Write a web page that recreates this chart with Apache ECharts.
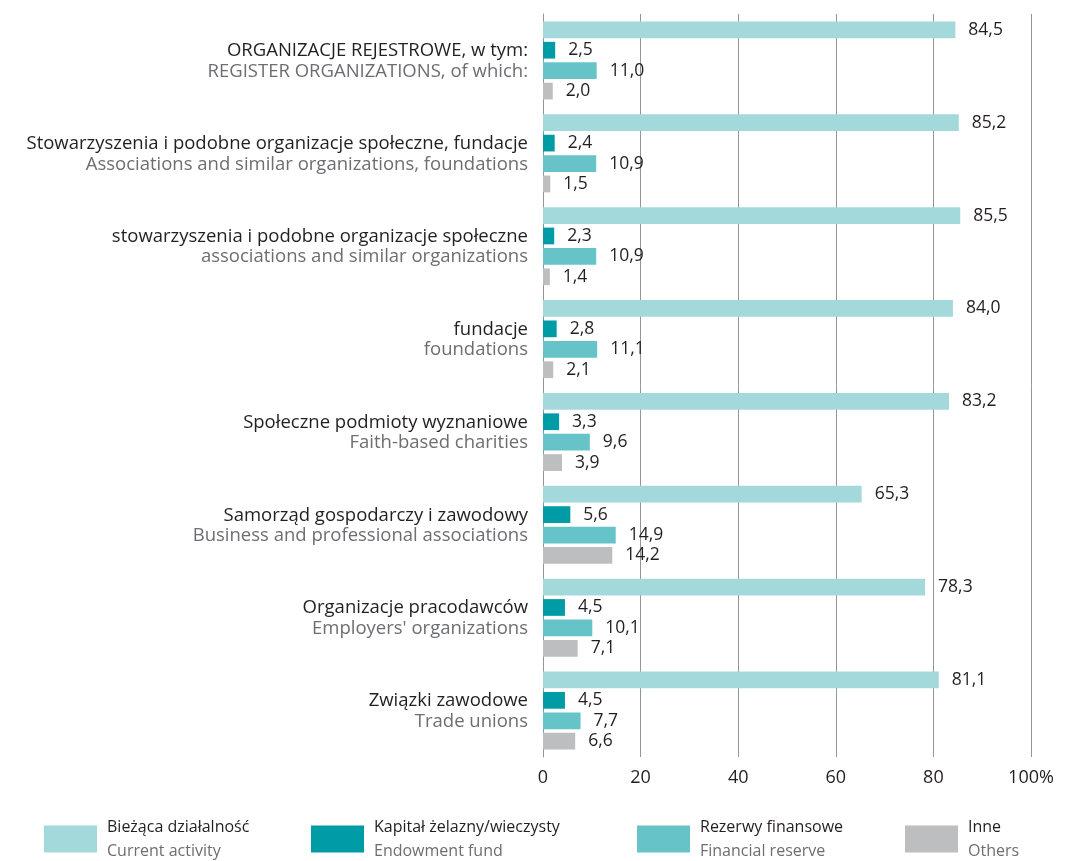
<!DOCTYPE html>
<html>
<head>
<meta charset="utf-8">
<script src="https://cdn.jsdelivr.net/npm/echarts@6/dist/echarts.min.js"></script>
<style>
html, body { margin: 0; padding: 0; background: #fff; }
#container { width: 1067px; height: 861px; }
</style>
</head>
<body>
<div id="container"></div>
<script>
var categoriesPl = ['ORGANIZACJE REJESTROWE, w tym:', 'Stowarzyszenia i podobne organizacje społeczne, fundacje',
    'stowarzyszenia i podobne organizacje społeczne', 'fundacje', 'Społeczne podmioty wyznaniowe',
    'Samorząd gospodarczy i zawodowy', 'Organizacje pracodawców', 'Związki zawodowe'];
var categoriesEn = ['REGISTER ORGANIZATIONS, of which:', 'Associations and similar organizations, foundations',
    'associations and similar organizations', 'foundations', 'Faith-based charities',
    'Business and professional associations', "Employers' organizations", 'Trade unions'];
var currentActivity = [84.5, 85.2, 85.5, 84.0, 83.2, 65.3, 78.3, 81.1];
var endowmentFund = [2.5, 2.4, 2.3, 2.8, 3.3, 5.6, 4.5, 4.5];
var financialReserve = [11.0, 10.9, 10.9, 11.1, 9.6, 14.9, 10.1, 7.7];
var others = [2.0, 1.5, 1.4, 2.1, 3.9, 14.2, 7.1, 6.6];
var xTicks = ['0', '20', '40', '60', '80', '100%'];

var seriesNamesPl = ['Bieżąca działalność', 'Kapitał żelazny/wieczysty', 'Rezerwy finansowe', 'Inne'];
var seriesNamesEn = ['Current activity', 'Endowment fund', 'Financial reserve', 'Others'];
var colors = ['#a4d9dc', '#009ca6', '#66c4c9', '#bcbec0'];

var FONT = 'Open Sans';
var dom = document.getElementById('container');
var myChart = echarts.init(dom);

var cats = categoriesPl.map(function (p, i) { return p + '\n' + categoriesEn[i]; });

function makeSeries(idx, data) {
    return {
        name: seriesNamesPl[idx],
        type: 'bar',
        data: data,
        barGap: '22%',
        barCategoryGap: '16%',
        itemStyle: { color: colors[idx] },
        label: {
            show: true,
            position: 'right',
            distance: 13,
            color: '#231f20',
            fontFamily: FONT,
            fontSize: 17.5,
            padding: [4, 0, 0, 0],
            formatter: function (p) { return p.value.toFixed(1).replace('.', ','); }
        }
    };
}

var legendLefts = [44, 311, 637, 905];
var legends = seriesNamesPl.map(function (n, i) {
    return {
        left: legendLefts[i],
        top: 819,
        padding: 0,
        data: [n],
        icon: 'rect',
        itemWidth: 53,
        itemHeight: 27,
        itemGap: 0,
        selectedMode: false,
        formatter: function (name) { return '{a|' + name + '}\n{b|' + seriesNamesEn[i] + '}'; },
        textStyle: {
            padding: [0, 0, 0, 5],
            rich: {
                a: { fontFamily: FONT, fontSize: 16, color: '#231f20', lineHeight: 24 },
                b: { fontFamily: FONT, fontSize: 16, color: '#6d6e71', lineHeight: 24 }
            }
        }
    };
});

var option = {
    animation: false,
    color: colors,
    legend: legends,
    grid: {
        left: 543,
        right: 36,
        top: 14,
        bottom: 104
    },
    xAxis: {
        type: 'value',
        min: 0,
        max: 100,
        interval: 20,
        axisLine: { show: false },
        axisTick: { show: false },
        splitLine: { show: true, lineStyle: { color: '#939598', width: 1 } },
        axisLabel: {
            margin: 12,
            color: '#231f20',
            fontFamily: FONT,
            fontSize: 18,
            formatter: function (v) { return xTicks[v / 20]; }
        }
    },
    yAxis: {
        type: 'category',
        inverse: true,
        data: cats,
        axisLine: { show: true, lineStyle: { color: '#939598', width: 1 } },
        axisTick: { show: false },
        axisLabel: {
            margin: 15,
            formatter: function (v) {
                var parts = v.split('\n');
                return '{a|' + parts[0] + '}\n{b|' + parts[1] + '}';
            },
            rich: {
                a: { fontFamily: FONT, fontSize: 18.5, color: '#231f20', lineHeight: 22, align: 'right', padding: [3, 0, 0, 0] },
                b: { fontFamily: FONT, fontSize: 18.5, color: '#6d6e71', lineHeight: 22, align: 'right' }
            }
        }
    },
    series: [
        makeSeries(0, currentActivity),
        makeSeries(1, endowmentFund),
        makeSeries(2, financialReserve),
        makeSeries(3, others)
    ]
};
myChart.setOption(option);
</script>
</body>
</html>
